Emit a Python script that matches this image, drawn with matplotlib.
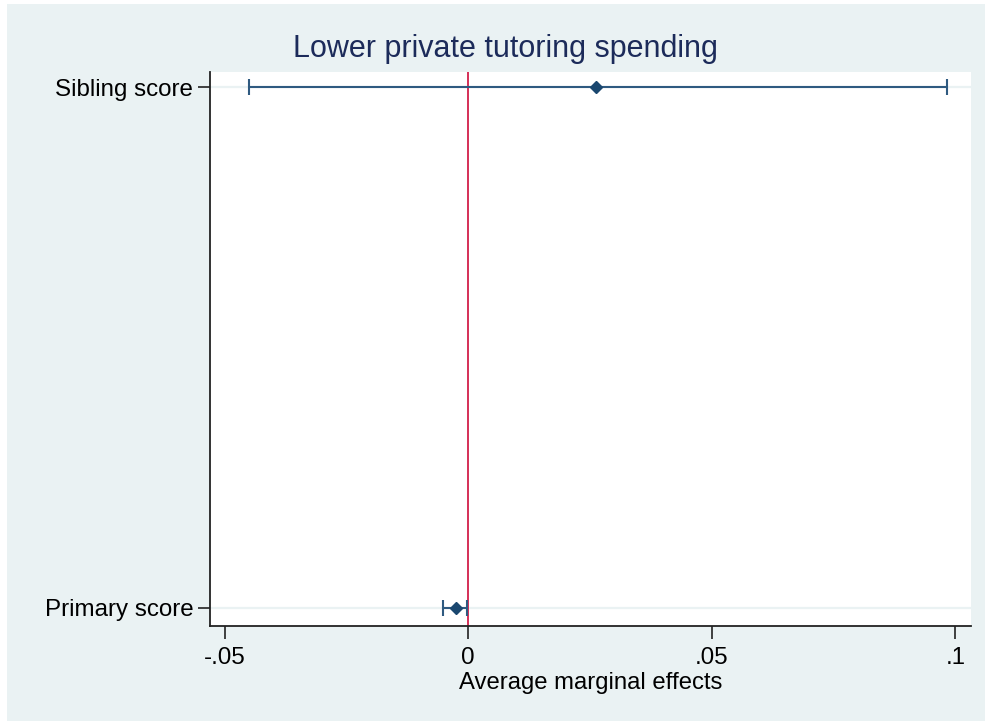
import numpy as np
import matplotlib.pyplot as plt
from matplotlib.patches import Rectangle

plt.rcParams['font.family'] = ['Liberation Sans', 'DejaVu Sans']

# average marginal effects with 95% confidence bounds
labels = ["Sibling score", "Primary score"]
effects = [0.0263, -0.0026]
ci_low = [-0.0451, -0.0052]
ci_high = [0.0982, -0.0002]
xticks = [-0.05, 0, 0.05, 0.1]
xticklabels = ["-.05", "0", ".05", ".1"]

bg = "#eaf2f3"
navy = "#1a476f"

fig = plt.figure(figsize=(9.85, 7.21), dpi=100, facecolor="white")
fig.patches.append(Rectangle((7 / 985, 0), 1, 1 - 4 / 721, transform=fig.transFigure,
                             facecolor=bg, edgecolor="none", zorder=-10))

W, H = 985, 721
ax = fig.add_axes([210 / W, 1 - 626 / H, (970.7 - 210) / W, (626 - 72) / H])
ax.set_facecolor("white")

ypos = np.arange(len(labels), 0, -1)  # first label on top

for y in ypos:
    ax.axhline(y, color=bg, lw=1.6, zorder=0)

ax.axvline(0, color="#d21f4a", lw=1.3, zorder=1)

ax.errorbar(effects, ypos,
            xerr=[np.array(effects) - np.array(ci_low), np.array(ci_high) - np.array(effects)],
            fmt="D", color=navy, ecolor="#2f5a80", elinewidth=1.5, capsize=5.5, capthick=1.5,
            markersize=6.5, zorder=3)

ax.set_xlim(-0.05302, 0.10316)
ax.set_ylim(1 - 0.035, 2 + 0.029)
ax.set_xticks(xticks)
ax.set_xticklabels(xticklabels)
ax.set_yticks(ypos)
ax.set_yticklabels(labels)

for side in ["top", "right"]:
    ax.spines[side].set_visible(False)
for side in ["left", "bottom"]:
    ax.spines[side].set_color("#222222")
    ax.spines[side].set_linewidth(1.3)

ax.tick_params(axis="both", direction="out", length=9, width=1.2, color="#222222",
               labelsize=17.4, labelcolor="black")
ax.tick_params(axis="x", pad=6)
ax.tick_params(axis="y", pad=3)

ax.set_xlabel("Average marginal effects", fontsize=17.2, labelpad=2)
fig.text(505 / W, 1 - 49 / H, "Lower private tutoring spending", ha="center", va="center",
         fontsize=22, color="#1c2b5a")

fig.savefig("out.png", dpi=100, facecolor=fig.get_facecolor())
